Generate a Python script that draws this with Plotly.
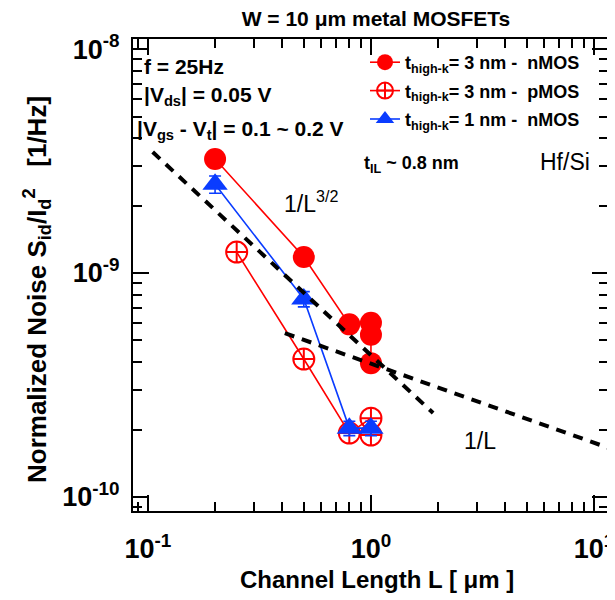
import plotly.graph_objects as go

# ---- data ----
L_n3 = [0.2, 0.5, 0.8, 1.0, 1.0, 1.0]
S_n3 = [3.23e-9, 1.18e-9, 5.9e-10, 6.0e-10, 5.3e-10, 3.96e-10]

L_p3 = [0.25, 0.5, 0.8, 1.0, 1.0]
S_p3 = [1.24e-9, 4.13e-10, 1.93e-10, 2.25e-10, 1.89e-10]

L_n1 = [0.2, 0.5, 0.8, 1.0]
S_n1 = [2.49e-9, 7.66e-10, 2.03e-10, 2.03e-10]
E_n1 = [0.22e-9, 0.06e-9, 0.015e-9, 0.015e-9]

# guide lines (dashed)
L_g15 = [0.105, 1.90]
S_g15 = [3.47e-9, 2.37e-10]
L_g1 = [0.411, 11.56]
S_g1 = [5.39e-10, 1.66e-10]

x_tickvals = [0.1, 1, 10]
x_ticktext = ["<b>10<sup>-1</sup></b>", "<b>10<sup>0</sup></b>", "<b>10<sup>1</sup></b>"]
y_tickvals = [1e-10, 1e-9, 1e-8]
y_ticktext = ["<b>10<sup>-10</sup></b>", "<b>10<sup>-9</sup></b>", "<b>10<sup>-8</sup></b>"]

RED = "#ff0000"
BLUE = "#0a3cff"
FONT = "Liberation Sans, Arial, sans-serif"
XR = [-1.067, 1.063]
YR = [-10.0625, -7.955]

# page body adds an 8px margin; positions below are in window pixels
OFF = 8
W, H = 607, 592
PL, PT, PR, PB = 133, 39, 608, 511   # plot frame in window pixels

fig = go.Figure()

fig.add_trace(go.Scatter(x=L_g15, y=S_g15, mode="lines", showlegend=False, xaxis="x2", yaxis="y2",
                         line=dict(color="black", width=4, dash="10px,8px"), hoverinfo="skip"))
fig.add_trace(go.Scatter(x=L_g1, y=S_g1, mode="lines", showlegend=False, xaxis="x2", yaxis="y2",
                         line=dict(color="black", width=4, dash="10px,8px"), hoverinfo="skip"))

fig.add_trace(go.Scatter(
    x=L_n3, y=S_n3, mode="lines+markers", legendgroup="a",
    name="<b>t<sub>high-k</sub>= 3 nm -  nMOS</b>",
    line=dict(color=RED, width=1.6),
    marker=dict(symbol="circle", size=22, color=RED)))
fig.add_trace(go.Scatter(
    x=L_p3, y=S_p3, mode="lines+markers", legendgroup="b",
    name="<b>t<sub>high-k</sub>= 3 nm -  pMOS</b>",
    line=dict(color=RED, width=1.6),
    marker=dict(symbol="circle-cross-open", size=21, color=RED, line=dict(width=2, color=RED))))
fig.add_trace(go.Scatter(
    x=L_n1, y=S_n1, mode="lines+markers", legendgroup="c",
    name="<b>t<sub>high-k</sub>= 1 nm -  nMOS</b>",
    line=dict(color=BLUE, width=1.6),
    error_y=dict(type="data", array=E_n1, color=BLUE, thickness=1.6, width=6),
    marker=dict(symbol="triangle-up", size=22, color=BLUE)))

minor = dict(ticks="inside", ticklen=9, tickwidth=2, tickcolor="black", dtick="D1", showgrid=False)
base = dict(type="log", showgrid=False, zeroline=False, automargin=False,
            ticks="inside", ticklen=16, tickwidth=2, tickcolor="black", minor=minor)

fig.update_layout(
    xaxis=dict(**base, range=XR, tickvals=x_tickvals, ticktext=x_ticktext,
               showline=True, linecolor="black", linewidth=2, mirror=True,
               ticklabelstandoff=13,
               tickfont=dict(family=FONT, size=27, color="black")),
    yaxis=dict(**base, range=YR, tickvals=y_tickvals, ticktext=y_ticktext,
               showline=True, linecolor="black", linewidth=2, mirror=True,
               ticklabelstandoff=6,
               tickfont=dict(family=FONT, size=27, color="black")),
    xaxis2=dict(**base, range=XR, tickvals=x_tickvals, overlaying="x", side="top",
                showticklabels=False, showline=False),
    yaxis2=dict(**base, range=YR, tickvals=y_tickvals, overlaying="y", side="right",
                showticklabels=False, showline=False),
)

def ann(text, px, py, size, bold=True, xanchor="left", angle=0):
    t = f"<b>{text}</b>" if bold else text
    fig.add_annotation(x=(px - PL) / (PR - PL), y=(PB - py) / (PB - PT), xref="paper", yref="paper",
                       text=t, showarrow=False, xanchor=xanchor, yanchor="middle",
                       textangle=angle,
                       font=dict(family=FONT, size=size, color="black"))

ann("f = 25Hz", 142, 67, 21)
ann("|V<sub>ds</sub>| = 0.05 V", 142, 96, 21)
ann("|V<sub>gs</sub> - V<sub>t</sub>| = 0.1 ~ 0.2 V", 135, 130, 21)
ann("t<sub>IL</sub> ~ 0.8 nm", 362, 164, 18)
ann("Hf/Si", 538, 162, 23, bold=False)
ann("1/L<sup>3/2</sup>", 282, 202, 23, bold=False)
ann("1/L", 462, 441, 23, bold=False)
ann("Channel Length L [ \u03bcm ]", 377, 579, 24, xanchor="center")
ann("Normalized Noise S<sub>id</sub>/I<sub>d</sub><sup>2</sup>   [1/Hz]", 37, 290, 26,
    xanchor="center", angle=-90)

fig.update_layout(
    width=W, height=H,
    margin=dict(l=PL - OFF, r=W - (PR - OFF), t=PT - OFF, b=H - (PB - OFF)),
    plot_bgcolor="white", paper_bgcolor="white",
    title=dict(text="<b>W = 10 \u03bcm metal MOSFETs</b>", x=(376 - OFF) / W, xanchor="center",
               y=1 - (19 - OFF) / H, yanchor="middle",
               font=dict(family=FONT, size=21, color="black")),
    legend=dict(x=(365 - PL) / (PR - PL), y=(PB - 44) / (PB - PT), xanchor="left", yanchor="top",
                bgcolor="rgba(0,0,0,0)", font=dict(family=FONT, size=18, color="black"),
                tracegroupgap=2, itemwidth=30),
    showlegend=True,
)

fig.write_html("out.html")
